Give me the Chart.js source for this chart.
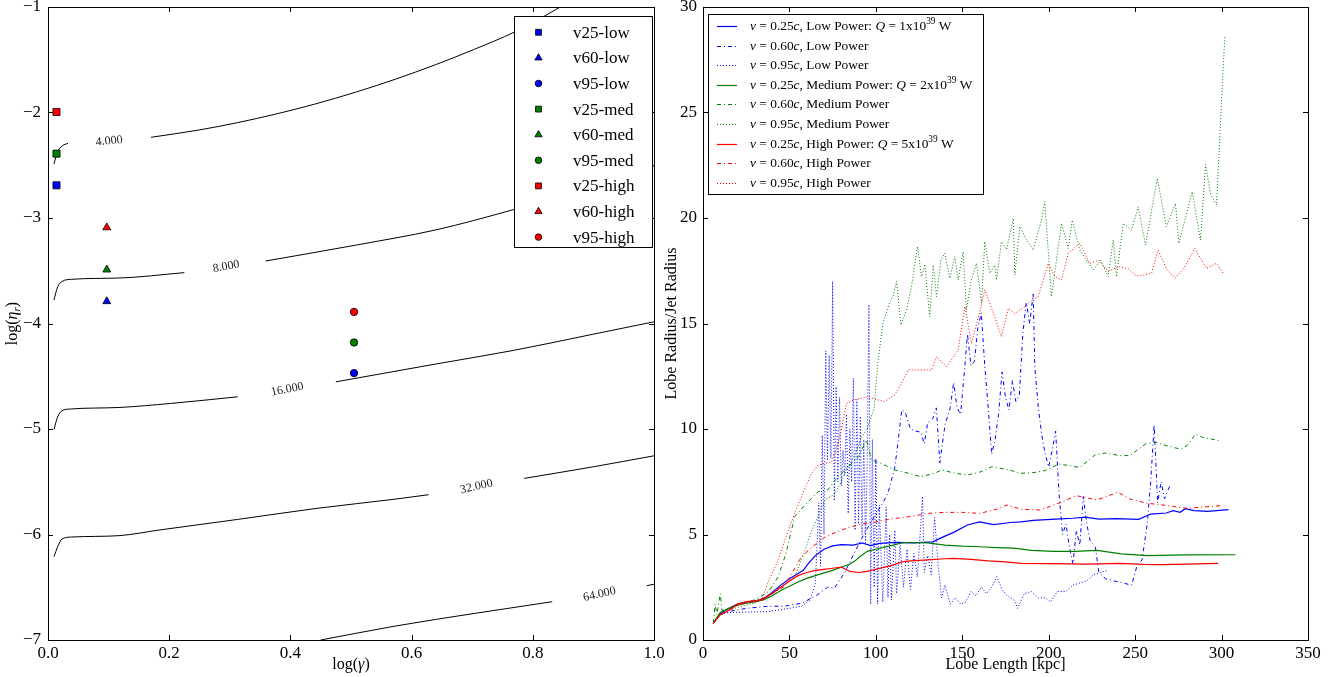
<!DOCTYPE html>
<html>
<head>
<meta charset="utf-8">
<script src="https://cdn.jsdelivr.net/npm/chart.js@4.4.0/dist/chart.umd.min.js"></script>
<style>
  html, body { margin: 0; padding: 0; background: #fff; }
  #wrap { position: relative; width: 1343px; height: 677px; overflow: hidden; }
  #leftChart { position: absolute; left: 0; top: 0; }
  #rightChart { position: absolute; left: 660px; top: 0; }
</style>
</head>
<body>
<div id="wrap">
  <canvas id="leftChart" width="690" height="677"></canvas>
  <canvas id="rightChart" width="683" height="677"></canvas>
</div>
<script>
const FONT = "'Liberation Serif', 'Times New Roman', 'DejaVu Serif', serif";

// ---- left panel: runs in (log gamma, log eta_r) ----
const runNames = ["v25-low", "v60-low", "v95-low", "v25-med", "v60-med", "v95-med", "v25-high", "v60-high", "v95-high"];
const runLogGamma = [0.014, 0.097, 0.505, 0.014, 0.097, 0.505, 0.014, 0.097, 0.505];
const runLogEta = [-2.69, -3.79, -4.47, -2.39, -3.49, -4.18, -1.995, -3.09, -3.89];

// contour lines (null = gap where the level label sits)
const contourLevels = ["4.000", "8.000", "16.000", "32.000", "64.000"];
const contourLabelX = [0.101, 0.294, 0.395, 0.707, 0.910];
const contourLabelY = [-2.27, -3.461, -4.625, -5.547, -6.567];
const c4X = [0.0098, 0.016, 0.023, 0.033, 0.101, 0.170, 0.248, 0.313, 0.378, 0.44, 0.509, 0.574, 0.639, 0.704, 0.770, 0.815, 0.845];
const c4Y = [-2.488, -2.371, -2.318, -2.292, null, -2.235, -2.167, -2.096, -2.012, -1.921, -1.805, -1.683, -1.548, -1.40, -1.237, -1.10, -1.0];
const c8X = [0.0098, 0.016, 0.023, 0.039, 0.117, 0.225, 0.294, 0.359, 0.509, 0.639, 0.766, 0.875, 0.985, 1.0];
const c8Y = [-3.777, -3.651, -3.603, -3.581, -3.569, -3.518, null, -3.408, -3.256, -3.114, -2.924, -2.74, -2.529, -2.504];
const c16X = [0.0098, 0.016, 0.023, 0.036, 0.117, 0.202, 0.313, 0.395, 0.475, 0.639, 0.770, 0.900, 1.0];
const c16Y = [-5.004, -4.884, -4.827, -4.811, -4.796, -4.758, -4.695, null, -4.553, -4.385, -4.253, -4.101, -3.984];
const c32X = [0.0098, 0.016, 0.023, 0.039, 0.117, 0.183, 0.313, 0.444, 0.574, 0.628, 0.707, 0.786, 0.900, 1.0];
const c32Y = [-6.21, -6.116, -6.043, -6.024, -6.011, -5.958, -5.857, -5.752, -5.664, -5.623, null, -5.468, -5.358, -5.254];
const c64X = [0.450, 0.574, 0.705, 0.832, 0.910, 0.988, 1.0];
const c64Y = [-7.0, -6.867, -6.747, -6.637, null, -6.485, -6.472];

// ---- right panel: lobe radius / jet radius vs lobe length [kpc] ----
const q1v25X = [6, 10, 15, 20, 25, 30, 35, 40, 45, 50, 55, 58, 61, 65, 70, 75, 80, 87, 92, 97, 102, 112, 122, 133, 138, 145, 153, 160, 168, 178, 184, 191, 204, 214, 221, 229, 239, 252, 259, 268, 272, 276, 279, 284, 292, 304];
const q1v25Y = [0.8, 1.25, 1.5, 1.7, 1.8, 1.85, 1.95, 2.25, 2.6, 2.9, 3.15, 3.3, 3.63, 4.0, 4.3, 4.46, 4.52, 4.5, 4.6, 4.47, 4.58, 4.63, 4.6, 4.65, 4.85, 5.1, 5.45, 5.6, 5.47, 5.57, 5.6, 5.67, 5.73, 5.77, 5.82, 5.73, 5.75, 5.72, 5.97, 6.02, 6.13, 6.05, 6.22, 6.13, 6.1, 6.18];
const q1v60X = [6, 10, 15, 25, 38, 47, 57, 66, 72, 76, 82, 88, 93, 98, 104, 107, 111, 113, 115, 117, 120, 123, 126, 128, 130, 133, 135, 137, 140, 143, 145, 147, 149, 151, 153, 155, 157, 159, 161, 163, 165, 167, 169, 171, 173, 175, 177, 179, 181, 183, 185, 187, 189, 191, 192, 194, 196, 198, 200, 202, 204, 206, 208, 210, 212, 214, 216, 218, 220, 222, 224, 227, 229, 233, 238, 243, 248, 251, 254, 257, 259, 261, 263, 265, 267, 270];
const q1v60Y = [0.8, 1.2, 1.35, 1.5, 1.6, 1.6, 1.74, 2.13, 2.5, 2.45, 3.2, 4.2, 5.0, 5.7, 6.5, 6.95, 8.2, 9.5, 10.9, 10.8, 10.0, 9.9, 9.85, 9.3, 10.3, 10.5, 11.0, 8.4, 10.2, 11.0, 12.2, 11.0, 10.7, 12.5, 14.5, 13.0, 13.2, 14.8, 15.5, 13.0, 11.0, 8.8, 9.5, 10.7, 12.7, 11.5, 10.9, 12.3, 11.3, 11.6, 14.5, 16.0, 15.0, 16.4, 12.9, 11.0, 9.7, 8.8, 8.2, 9.0, 9.9, 6.9, 5.0, 5.5, 4.4, 3.6, 5.2, 4.5, 6.8, 5.5, 4.7, 4.4, 3.2, 2.9, 2.8, 2.7, 2.6, 3.5, 3.8, 5.5, 7.5, 10.2, 6.5, 7.5, 6.7, 7.3];
const q1v95X = [6, 10, 15, 25, 38, 50, 57, 62, 65, 67, 68, 69, 70, 71, 72, 73, 74, 75, 76, 77, 78, 79, 80, 81, 82, 83, 84, 85, 86, 87, 88, 89, 90, 91, 92, 93, 94, 95, 96, 97, 98, 99, 100, 101, 102, 104, 106, 107, 108, 109, 111, 112, 114, 116, 118, 120, 122, 124, 126, 127, 128, 130, 132, 134, 136, 138, 140, 143, 146, 149, 152, 155, 158, 161, 164, 167, 170, 173, 176, 180, 182, 186, 190, 194, 198, 201, 205, 210, 214, 218, 222, 226, 230, 234];
const q1v95Y = [0.8, 1.2, 1.3, 1.32, 1.35, 1.5, 1.6, 1.9, 2.7, 6.5, 3.5, 9.7, 5.0, 13.7, 8.5, 13.5, 8.6, 17.0, 6.6, 12.0, 7.5, 11.5, 7.3, 9.0, 7.8, 10.7, 6.0, 10.0, 7.5, 12.4, 5.2, 11.4, 5.5, 10.6, 5.0, 9.5, 4.6, 8.5, 15.9, 1.7, 9.5, 2.5, 8.6, 1.7, 6.4, 1.8, 6.3, 2.0, 5.0, 1.9, 5.2, 2.2, 4.5, 2.5, 4.3, 2.4, 4.1, 3.0, 5.5, 6.8, 3.2, 4.0, 3.1, 5.8, 3.6, 2.0, 2.6, 1.7, 2.0, 1.7, 1.8, 2.3, 2.1, 2.5, 2.2, 2.5, 3.0, 2.4, 2.1, 1.9, 1.5, 2.2, 2.3, 2.0, 2.0, 1.8, 2.3, 2.3, 2.6, 2.7, 2.8, 3.1, 3.2, 3.3];
const q2v25X = [6, 10, 15, 20, 25, 30, 35, 40, 45, 50, 55, 60, 65, 70, 75, 80, 85, 88, 90, 95, 100, 105, 110, 115, 120, 130, 140, 150, 160, 170, 180, 190, 203, 215, 228, 242, 257, 280, 308];
const q2v25Y = [0.8, 1.3, 1.5, 1.65, 1.75, 1.8, 1.9, 2.1, 2.35, 2.55, 2.75, 2.92, 3.05, 3.18, 3.3, 3.45, 3.6, 3.75, 3.9, 4.2, 4.3, 4.4, 4.5, 4.6, 4.62, 4.6, 4.5, 4.45, 4.42, 4.38, 4.35, 4.25, 4.2, 4.2, 4.25, 4.08, 4.0, 4.03, 4.04];
const q2v60X = [6, 7, 8, 10, 11, 15, 20, 30, 38, 43.5, 48, 53, 59, 66.6, 72, 78, 84, 90, 94.6, 97.5, 103, 111, 119, 126, 134, 138, 146, 153, 160, 167, 177, 184, 191, 198, 206, 218, 227, 233, 241, 247, 256, 262, 268, 276, 280, 285, 289, 299];
const q2v60Y = [0.8, 1.7, 1.2, 2.2, 1.4, 1.5, 1.7, 1.9, 2.3, 3.0, 4.1, 5.84, 6.4, 7.03, 7.1, 7.74, 8.21, 8.69, 9.48, 8.53, 8.37, 8.06, 7.9, 7.74, 7.9, 8.06, 7.9, 7.82, 7.95, 8.21, 8.06, 7.9, 7.93, 8.03, 8.34, 8.18, 8.78, 8.86, 8.74, 8.74, 9.29, 9.37, 9.21, 9.05, 9.21, 9.76, 9.6, 9.45];
const q2v95X = [6, 10, 15, 20, 25, 30, 38, 45, 53, 58, 63, 70.5, 76, 80, 83, 88, 91.7, 95, 99, 101, 104, 108, 110, 112, 114.5, 117.7, 120.6, 124.1, 126.4, 128.3, 131.2, 133.2, 135.1, 137.6, 139.9, 142.8, 145.7, 147.6, 150.5, 152.4, 155, 158.2, 161.1, 163, 165.9, 168.8, 169.8, 172.7, 175.6, 179.5, 180.4, 183.3, 187, 191, 195.8, 197.7, 201.6, 207.4, 211.3, 213.6, 218, 225.7, 230, 234.4, 237.3, 239.2, 243.1, 247.9, 251.8, 256, 262.8, 268.1, 273.3, 275.3, 283, 287.8, 290.7, 293.8, 297.1, 300, 301.9];
const q2v95Y = [0.8, 1.2, 1.4, 1.55, 1.65, 1.75, 2.05, 2.5, 3.0, 4.0, 5.2, 6.64, 6.9, 7.5, 8.06, 8.8, 9.63, 10.0, 11.0, 13.0, 15.0, 16.0, 16.3, 17.0, 14.93, 15.64, 16.74, 18.64, 17.22, 17.8, 15.32, 17.77, 16.27, 18.0, 18.33, 17.14, 18.17, 17.06, 18.4, 15.64, 17.0, 17.85, 15.96, 18.88, 17.38, 17.77, 17.06, 18.88, 18.5, 19.98, 17.3, 19.59, 19.0, 18.48, 19.9, 20.77, 16.27, 19.75, 18.56, 19.9, 18.48, 17.54, 18.0, 17.22, 18.96, 17.22, 19.75, 19.43, 20.53, 18.72, 21.88, 19.59, 20.69, 18.8, 21.25, 18.96, 22.54, 21.09, 20.62, 25.6, 28.6];
const q5v25X = [6, 10, 15, 20, 25, 30, 34, 40, 45, 50, 55, 60, 65, 70, 75, 80, 85, 90, 95, 100, 105, 110, 115, 120, 130, 140, 145, 155, 165, 175, 184, 200, 222, 241, 255, 265, 280, 298];
const q5v25Y = [0.8, 1.2, 1.4, 1.7, 1.82, 1.85, 1.9, 2.2, 2.5, 2.8, 3.05, 3.2, 3.3, 3.35, 3.4, 3.45, 3.25, 3.2, 3.25, 3.35, 3.45, 3.55, 3.7, 3.75, 3.8, 3.85, 3.87, 3.82, 3.75, 3.7, 3.63, 3.62, 3.6, 3.63, 3.58, 3.57, 3.6, 3.63];
const q5v60X = [6, 10, 15, 20, 25, 30, 35, 40, 47, 57, 63, 70, 78, 85, 92, 100, 110, 120, 130, 140, 150, 160, 170, 176, 184, 195, 207, 216, 228, 240, 247, 257, 265, 280, 300];
const q5v60Y = [0.8, 1.2, 1.4, 1.65, 1.8, 1.85, 2.0, 2.2, 2.53, 3.95, 4.4, 4.85, 5.15, 5.35, 5.5, 5.6, 5.75, 5.85, 6.0, 6.05, 6.05, 6.0, 6.2, 6.4, 6.2, 6.16, 6.52, 6.84, 6.64, 7.0, 6.68, 6.48, 6.41, 6.24, 6.37];
const q5v95X = [6, 10, 15, 20, 25, 30, 33.8, 38, 43.5, 48, 53, 58, 62.8, 66.6, 74.3, 77, 80, 83, 87, 95.6, 100, 105, 111, 115, 118.7, 125, 132.2, 135.1, 140.9, 147.6, 151.5, 155.3, 160, 163, 168, 172.7, 176.6, 180.4, 186.2, 190, 193.9, 199.7, 203.5, 207.4, 211.3, 218, 223.8, 229, 234.4, 240.2, 246, 250.8, 255, 259.5, 263.3, 268, 273, 278, 284.5, 291.3, 297.1, 300.9];
const q5v95Y = [0.8, 1.2, 1.45, 1.65, 1.75, 1.8, 1.9, 2.8, 3.79, 4.9, 6.0, 7.0, 7.9, 8.29, 8.45, 9.0, 9.95, 11.2, 11.37, 11.53, 11.4, 11.3, 11.61, 12.2, 12.8, 12.8, 12.8, 13.43, 12.95, 13.74, 15.8, 14.06, 15.5, 16.59, 15.5, 14.37, 15.72, 15.48, 15.8, 16.11, 16.27, 17.85, 17.22, 17.06, 18.33, 18.8, 17.85, 18.0, 17.46, 17.69, 17.6, 17.25, 17.3, 17.38, 18.48, 17.6, 17.14, 17.6, 18.56, 17.61, 17.85, 17.38];

const seriesLabels = [
  "*v* = 0.25*c*, Low Power: *Q* = 1x10^{39} W",
  "*v* = 0.60*c*, Low Power",
  "*v* = 0.95*c*, Low Power",
  "*v* = 0.25*c*, Medium Power: *Q* = 2x10^{39} W",
  "*v* = 0.60*c*, Medium Power",
  "*v* = 0.95*c*, Medium Power",
  "*v* = 0.25*c*, High Power: *Q* = 5x10^{39} W",
  "*v* = 0.60*c*, High Power",
  "*v* = 0.95*c*, High Power"
];

const BLUE = "#0000ff", GREEN = "#008000", RED = "#ff0000";
const runColors = [BLUE, BLUE, BLUE, GREEN, GREEN, GREEN, RED, RED, RED];
const runMarkers = ["rect", "triangle", "circle", "rect", "triangle", "circle", "rect", "triangle", "circle"];
const markerRadius = { rect: 5, triangle: 4.6, circle: 3.7 };
const DASHDOT = [4, 3, 1, 3], DOTTED = [1, 2];

const pts = (xs, ys) => xs.map((x, i) => ({ x, y: ys[i] }));

// small rich-text helper: *italic*, ^{sup}, _{sub}
function parseRich(str) {
  const segs = [];
  const re = /\*([^*]+)\*|\^\{([^}]+)\}|_\{([^}]+)\}|([^*^_]+)/g;
  let m;
  while ((m = re.exec(str))) {
    if (m[1]) segs.push({ t: m[1], it: true });
    else if (m[2]) segs.push({ t: m[2], sup: true });
    else if (m[3]) segs.push({ t: m[3], sub: true, it: true });
    else segs.push({ t: m[4] });
  }
  return segs;
}
function drawRich(ctx, str, x, y, size, align) {
  const segs = parseRich(str);
  const fontFor = s => (s.it ? "italic " : "") + ((s.sup || s.sub) ? size * 0.7 : size) + "px " + FONT;
  let total = 0;
  segs.forEach(s => { ctx.font = fontFor(s); s.w = ctx.measureText(s.t).width; total += s.w; });
  let cx = align === "center" ? x - total / 2 : x;
  ctx.textAlign = "left";
  ctx.textBaseline = "middle";
  segs.forEach(s => {
    ctx.font = fontFor(s);
    const dy = s.sup ? -size * 0.35 : s.sub ? size * 0.28 : 0;
    ctx.fillText(s.t, cx, y + dy);
    cx += s.w;
  });
}

function drawMarker(ctx, style, x, y, color, r) {
  ctx.fillStyle = color;
  ctx.strokeStyle = "#000";
  ctx.lineWidth = 0.8;
  ctx.beginPath();
  if (style === "rect") ctx.rect(x - r * 0.7, y - r * 0.7, r * 1.4, r * 1.4);
  else if (style === "triangle") { ctx.moveTo(x, y - r); ctx.lineTo(x + r * 0.87, y + r * 0.5); ctx.lineTo(x - r * 0.87, y + r * 0.5); ctx.closePath(); }
  else ctx.arc(x, y, r, 0, Math.PI * 2);
  ctx.fill();
  ctx.stroke();
}

// matplotlib-ish frame: box, inward ticks on all sides, axis titles
function framePlugin(xTitle, yTitle, yTitleOffset) {
  return {
    id: "frame",
    afterDatasetsDraw(chart) {
      const { ctx, chartArea: a, scales } = chart;
      const tl = 5;
      ctx.save();
      ctx.strokeStyle = "#000";
      ctx.lineWidth = 1;
      ctx.beginPath();
      scales.x.ticks.forEach(t => {
        const px = Math.round(scales.x.getPixelForValue(t.value)) + 0.5;
        ctx.moveTo(px, a.bottom); ctx.lineTo(px, a.bottom - tl);
        ctx.moveTo(px, a.top); ctx.lineTo(px, a.top + tl);
      });
      scales.y.ticks.forEach(t => {
        const py = Math.round(scales.y.getPixelForValue(t.value)) + 0.5;
        ctx.moveTo(a.left, py); ctx.lineTo(a.left + tl, py);
        ctx.moveTo(a.right, py); ctx.lineTo(a.right - tl, py);
      });
      ctx.stroke();
      ctx.strokeRect(Math.round(a.left) + 0.5, Math.round(a.top) + 0.5, Math.round(a.right - a.left), Math.round(a.bottom - a.top));
      ctx.fillStyle = "#000";
      drawRich(ctx, xTitle, (a.left + a.right) / 2, a.bottom + 25, 16, "center");
      ctx.translate(a.left - yTitleOffset, (a.top + a.bottom) / 2);
      ctx.rotate(-Math.PI / 2);
      drawRich(ctx, yTitle, 0, 0, 16, "center");
      ctx.restore();
    }
  };
}

const contourLabels = {
  id: "contourLabels",
  afterDatasetsDraw(chart) {
    const { ctx, scales } = chart;
    ctx.save();
    ctx.fillStyle = "#222";
    ctx.font = "12px " + FONT;
    ctx.textAlign = "center";
    ctx.textBaseline = "middle";
    contourLevels.forEach((lvl, i) => {
      const data = chart.data.datasets[i].data;
      const g = data.findIndex(p => p.y === null);
      const p0 = data[g - 1], p1 = data[g + 1];
      const ang = Math.atan2(scales.y.getPixelForValue(p1.y) - scales.y.getPixelForValue(p0.y),
                             scales.x.getPixelForValue(p1.x) - scales.x.getPixelForValue(p0.x));
      ctx.save();
      ctx.translate(scales.x.getPixelForValue(contourLabelX[i]), scales.y.getPixelForValue(contourLabelY[i]));
      ctx.rotate(ang * 1.3);
      ctx.fillText(lvl, 0, 0);
      ctx.restore();
    });
    ctx.restore();
  }
};

const runLegend = {
  id: "runLegend",
  afterDatasetsDraw(chart) {
    const ctx = chart.ctx;
    ctx.save();
    ctx.fillStyle = "#fff";
    ctx.fillRect(514, 16, 138, 231);
    ctx.strokeStyle = "#000";
    ctx.lineWidth = 1;
    ctx.strokeRect(514.5, 16.5, 138, 231);
    runNames.forEach((name, i) => {
      const y = 32.3 + i * 25.6;
      drawMarker(ctx, runMarkers[i], 538.5, y, runColors[i], runMarkers[i] === "circle" ? 3.3 : 4.2);
      ctx.fillStyle = "#000";
      ctx.font = "17px " + FONT;
      ctx.textAlign = "left";
      ctx.textBaseline = "middle";
      ctx.fillText(name, 573, y + 1);
    });
    ctx.restore();
  }
};

const seriesLegend = {
  id: "seriesLegend",
  afterDatasetsDraw(chart) {
    const ctx = chart.ctx;
    const sets = chart.data.datasets;
    ctx.save();
    ctx.fillStyle = "#fff";
    ctx.fillRect(48, 14, 275, 180);
    ctx.strokeStyle = "#000";
    ctx.lineWidth = 1;
    ctx.strokeRect(48.5, 14.5, 275, 180);
    sets.forEach((ds, i) => {
      const y = Math.round(26 + i * 19.6) + 0.5;
      ctx.strokeStyle = ds.borderColor;
      ctx.lineWidth = ds.borderWidth;
      ctx.setLineDash(ds.borderDash || []);
      ctx.beginPath();
      ctx.moveTo(57, y); ctx.lineTo(77, y);
      ctx.stroke();
      ctx.setLineDash([]);
      ctx.fillStyle = "#000";
      drawRich(ctx, ds.label, 90, y, 13.4, "left");
    });
    ctx.restore();
  }
};

Chart.defaults.font.family = FONT;
Chart.defaults.font.size = 17;
Chart.defaults.color = "#000";

const contourSets = [[c4X, c4Y], [c8X, c8Y], [c16X, c16Y], [c32X, c32Y], [c64X, c64Y]].map(([xs, ys], i) => ({
  type: "line",
  label: contourLevels[i],
  data: pts(xs, ys),
  borderColor: "#000",
  borderWidth: 1,
  pointRadius: 0,
  spanGaps: false,
  cubicInterpolationMode: "monotone",
  order: 2
}));
const runSets = runNames.map((name, i) => ({
  type: "scatter",
  label: name,
  data: [{ x: runLogGamma[i], y: runLogEta[i] }],
  pointStyle: runMarkers[i],
  pointRadius: markerRadius[runMarkers[i]],
  backgroundColor: runColors[i],
  borderColor: "#000",
  borderWidth: 0.8,
  order: 1
}));

const noGrid = { display: false, drawTicks: false };
const fixX = s => { s.height = 37; s.paddingLeft = 0; s.paddingRight = 0; };
const fixY = w => s => { s.width = w; s.paddingTop = 0; s.paddingBottom = 0; };

new Chart(document.getElementById("leftChart"), {
  type: "scatter",
  data: { datasets: [...contourSets, ...runSets] },
  options: {
    responsive: false,
    animation: false,
    events: [],
    layout: { padding: { top: 7, right: 36, bottom: 0, left: 0 } },
    plugins: { legend: { display: false }, tooltip: { enabled: false } },
    scales: {
      x: {
        type: "linear", min: 0, max: 1,
        grid: noGrid, border: { display: false },
        ticks: { stepSize: 0.2, padding: 3, maxRotation: 0, autoSkip: false, callback: v => v.toFixed(1) },
        afterFit: fixX
      },
      y: {
        type: "linear", min: -7, max: -1,
        grid: noGrid, border: { display: false },
        ticks: { stepSize: 1, padding: 7, autoSkip: false, callback: v => "\u2212" + Math.abs(v) },
        afterFit: fixY(48)
      }
    }
  },
  plugins: [framePlugin("log(*γ*)", "log(*η*_{r})", 35), contourLabels, runLegend]
});

const lineSeries = [
  [q1v25X, q1v25Y, BLUE, null], [q1v60X, q1v60Y, BLUE, DASHDOT], [q1v95X, q1v95Y, BLUE, DOTTED],
  [q2v25X, q2v25Y, GREEN, null], [q2v60X, q2v60Y, GREEN, DASHDOT], [q2v95X, q2v95Y, GREEN, DOTTED],
  [q5v25X, q5v25Y, RED, null], [q5v60X, q5v60Y, RED, DASHDOT], [q5v95X, q5v95Y, RED, DOTTED]
];

new Chart(document.getElementById("rightChart"), {
  type: "line",
  data: {
    datasets: lineSeries.map(([xs, ys, color, dash], i) => ({
      label: seriesLabels[i],
      data: pts(xs, ys),
      borderColor: color,
      borderWidth: dash ? 1 : 1.2,
      borderDash: dash || [],
      pointRadius: 0,
      tension: 0,
      fill: false,
      order: 9 - i
    }))
  },
  options: {
    responsive: false,
    animation: false,
    events: [],
    layout: { padding: { top: 7, right: 35, bottom: 0, left: 0 } },
    plugins: { legend: { display: false }, tooltip: { enabled: false } },
    scales: {
      x: {
        type: "linear", min: 0, max: 350,
        grid: noGrid, border: { display: false },
        ticks: { stepSize: 50, padding: 3, maxRotation: 0, autoSkip: false },
        afterFit: fixX
      },
      y: {
        type: "linear", min: 0, max: 30,
        grid: noGrid, border: { display: false },
        ticks: { stepSize: 5, padding: 6, autoSkip: false },
        afterFit: fixY(43)
      }
    }
  },
  plugins: [framePlugin("Lobe Length [kpc]", "Lobe Radius/Jet Radius", 31), seriesLegend]
});
</script>
</body>
</html>
